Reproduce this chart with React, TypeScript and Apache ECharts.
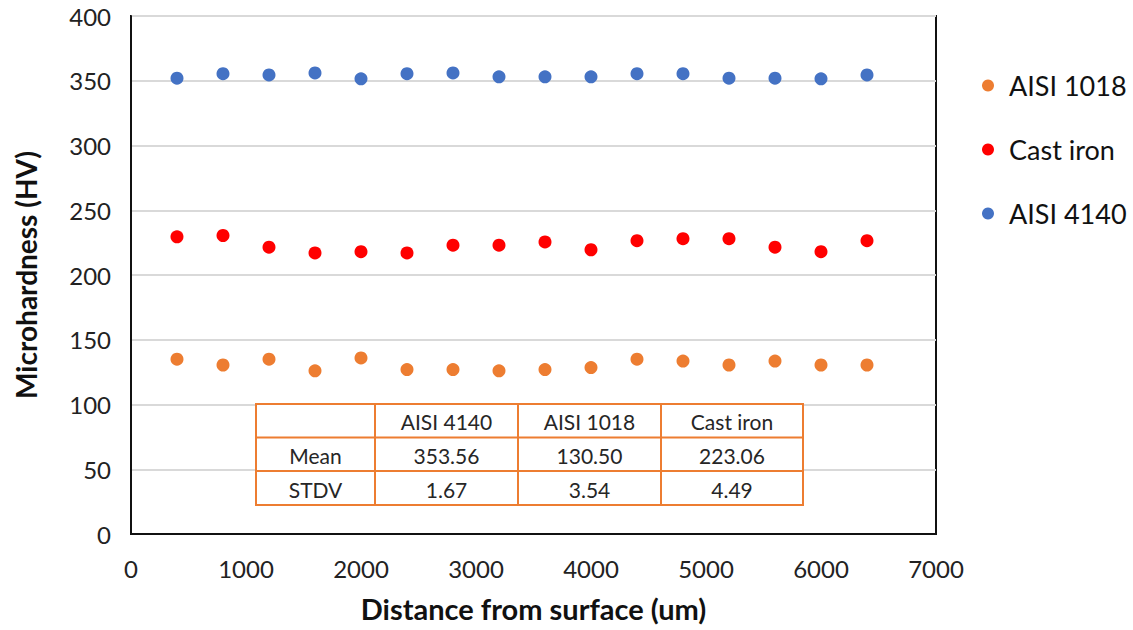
import React, { useEffect, useRef } from "react";
import * as echarts from "echarts";

// Measurement positions (um from surface)
const distances = [400, 800, 1200, 1600, 2000, 2400, 2800, 3200, 3600, 4000, 4400, 4800, 5200, 5600, 6000, 6400];

// Microhardness readings (HV)
const aisi1018 = [135, 130.5, 135, 126, 136, 127, 127, 126, 127, 128.5, 135, 133.5, 130.5, 133.5, 130.5, 130.5];
const castIron = [229.5, 230.5, 221.5, 217, 218, 217, 223, 223, 225.5, 219.5, 226.5, 228, 228, 221.5, 218, 226.5];
const aisi4140 = [352, 355.5, 354.5, 356, 351.5, 355.5, 356, 353, 353, 353, 355.5, 355.5, 352, 352, 351.5, 354.5];

// Summary table
const tableHeader = ["", "AISI 4140", "AISI 1018", "Cast iron"];
const tableMean = ["Mean", "353.56", "130.50", "223.06"];
const tableStdv = ["STDV", "1.67", "3.54", "4.49"];

const FONT = "Lato, 'Open Sans', sans-serif";

function buildTable() {
  const colX = [256, 375, 518, 661, 803];
  const rowY = [404, 437.5, 471, 505];
  const rows = [tableHeader, tableMean, tableStdv];
  const children: any[] = [];
  children.push({
    type: "rect",
    shape: { x: colX[0], y: rowY[0], width: colX[4] - colX[0], height: rowY[3] - rowY[0] },
    style: { fill: "#ffffff", stroke: "#ED7D31", lineWidth: 2 },
    z: 10,
  });
  for (let i = 1; i < 4; i++) {
    children.push({
      type: "line",
      shape: { x1: colX[i], y1: rowY[0], x2: colX[i], y2: rowY[3] },
      style: { stroke: "#ED7D31", lineWidth: 2 },
      z: 11,
    });
  }
  for (let j = 1; j < 3; j++) {
    children.push({
      type: "line",
      shape: { x1: colX[0], y1: rowY[j], x2: colX[4], y2: rowY[j] },
      style: { stroke: "#ED7D31", lineWidth: 2 },
      z: 11,
    });
  }
  rows.forEach((row, r) => {
    row.forEach((txt, c) => {
      if (!txt) return;
      children.push({
        type: "text",
        x: (colX[c] + colX[c + 1]) / 2,
        y: (rowY[r] + rowY[r + 1]) / 2 + 1,
        style: {
          text: txt,
          fontSize: 21,
          fontFamily: FONT,
          fill: "#262626",
          align: "center",
          verticalAlign: "middle",
        },
        z: 12,
      });
    });
  });
  return children;
}

export default function App() {
  const ref = useRef<HTMLDivElement>(null);

  useEffect(() => {
    document.body.style.margin = "0";
    const chart = echarts.init(ref.current!, undefined, { renderer: "svg" });
    const toPairs = (vals: number[]) => distances.map((d, i) => [d, vals[i]]);
    const seriesStyle = (name: string, color: string, vals: number[]) => ({
      name,
      type: "scatter",
      data: toPairs(vals),
      symbol: "circle",
      symbolSize: 13,
      itemStyle: { color, opacity: 1 },
      z: 5,
    });
    chart.setOption({
      animation: false,
      backgroundColor: "#ffffff",
      textStyle: { fontFamily: FONT },
      grid: {
        left: 131,
        top: 16,
        width: 805,
        height: 518,
        show: true,
        borderColor: "#111111",
        borderWidth: 2,
        containLabel: false,
      },
      legend: {
        orient: "vertical",
        left: 977,
        top: 67,
        itemGap: 37,
        icon: "circle",
        itemWidth: 12,
        itemHeight: 12,
        itemStyle: { opacity: 1 },
        textStyle: { fontSize: 27, color: "#111111", fontFamily: FONT, padding: [0, 0, 0, 10] },
        data: ["AISI 1018", "Cast iron", "AISI 4140"],
      },
      xAxis: {
        type: "value",
        min: 0,
        max: 7000,
        interval: 1000,
        name: "Distance from surface (um)",
        nameLocation: "middle",
        nameGap: 60,
        nameTextStyle: { fontSize: 29, fontWeight: "bold", color: "#111111", fontFamily: FONT },
        axisLine: { show: true, lineStyle: { color: "#111111", width: 2 } },
        axisTick: { show: false },
        axisLabel: {
          fontSize: 24,
          color: "#222222",
          margin: 22,
          fontFamily: FONT,
          formatter: (v: number) => String(v),
        },
        splitLine: { show: false },
      },
      yAxis: {
        type: "value",
        min: 0,
        max: 400,
        interval: 50,
        name: "Microhardness (HV)",
        nameLocation: "middle",
        nameGap: 91,
        nameTextStyle: { fontSize: 28, fontWeight: "bold", color: "#111111", fontFamily: FONT },
        axisLine: { show: true, lineStyle: { color: "#111111", width: 2 } },
        axisTick: { show: false },
        axisLabel: { fontSize: 24, color: "#222222", margin: 20, fontFamily: FONT },
        splitLine: { show: true, lineStyle: { color: "#d9d9d9", width: 2 } },
      },
      series: [
        seriesStyle("AISI 1018", "#ED7D31", aisi1018),
        seriesStyle("Cast iron", "#FF0000", castIron),
        seriesStyle("AISI 4140", "#4472C4", aisi4140),
      ],
      graphic: buildTable(),
    });
    return () => chart.dispose();
  }, []);

  return <div ref={ref} style={{ width: 1133, height: 630 }} />;
}
